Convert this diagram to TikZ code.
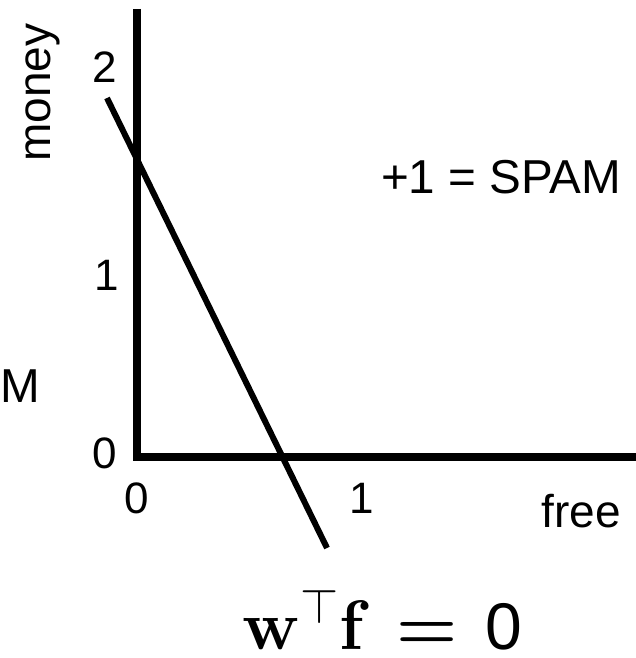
\documentclass[tikz,border=0pt]{standalone}
\usepackage{fix-cm}
\usepackage[no-math]{fontspec}
\setmainfont{Liberation Sans}
\usepackage{bm}
\usetikzlibrary{positioning}
\tikzset{
  axisline/.style={line width=4pt, line join=miter},
  boundary/.style={line width=3pt},
  ticklabel/.style={font=\fontsize{22}{26}\selectfont, inner sep=0pt, anchor=base},
  axisname/.style={font=\fontsize{23}{27}\selectfont, inner sep=0pt, anchor=base},
  classname/.style={font=\fontsize{23.8}{28}\selectfont, inner sep=0pt, anchor=base},
  formula/.style={font=\fontsize{35}{40}\selectfont, inner sep=0pt, anchor=base west}
}

\begin{document}
\begin{tikzpicture}[x=0.5pt,y=-0.5pt]
  \useasboundingbox (0,0) rectangle (636,658);

  % axes and decision boundary
  \coordinate (ytop) at (137,9);
  \coordinate (origin) at (137,457);
  \coordinate (xend) at (636,457);
  \coordinate (btop) at (107,98);
  \coordinate (bbot) at (327,548);
  \draw[axisline] (ytop) -- (origin) -- (xend);
  \draw[boundary] (btop) -- (bbot);

  % tick labels
  \node[ticklabel] (ytwo) at (105,83) {2};
  \node[ticklabel] (yone) at (106.5,290) {1};
  \node[ticklabel] (yzero) at (105,468) {0};
  \node[ticklabel] (xzero) at (137,513) {0};
  \node[ticklabel] (xone) at (362,513) {1};

  % axis names
  \node[axisname, rotate=90] (money) at (50,92.5) {money};
  \node[axisname] (free) at (581,527) {free};

  % classes
  \node[classname] (spam) at (501,193) {+1 = SPAM};
  \node[classname, anchor=base west] (ham) at (0,402) {M};

  \node[formula] (rule) at (242,649)
    {$\mathbf{w}^{\top}\mathbf{f}$\hspace{13pt}$\bm{=}$\hspace{14pt}{\fontsize{33}{40}\selectfont 0}};
\end{tikzpicture}
\end{document}
